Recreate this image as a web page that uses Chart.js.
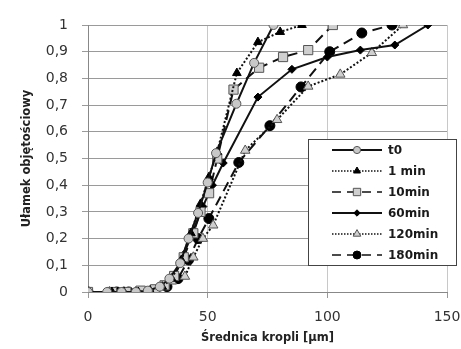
<!DOCTYPE html>
<html>
<head>
<meta charset="utf-8">
<script src="https://cdn.jsdelivr.net/npm/chart.js@4/dist/chart.umd.min.js"></script>
<style>
  html, body { margin: 0; padding: 0; background: #fff; }
  #wrap { width: 461px; height: 349px; position: relative; }
</style>
</head>
<body>
<div id="wrap"><canvas id="chart"></canvas></div>
<script>
// series labels
const seriesNames = ["t0", "1 min", "10min", "60min", "120min", "180min"];

// droplet diameter [um] and volume fraction
const t0X = [0, 8, 14, 20, 25, 30, 34, 38.5, 42, 46, 50, 53.5, 62, 69.4, 77.5];
const t0Y = [0, 0, 0, 0, 0.005, 0.02, 0.05, 0.108, 0.2, 0.296, 0.41, 0.52, 0.705, 0.858, 1];

const min1X = [0, 10, 15, 21, 26, 31, 35, 39, 43, 47, 50.5, 54, 62.2, 71, 80.3, 89.4];
const min1Y = [0, 0, 0, 0, 0.005, 0.02, 0.05, 0.12, 0.22, 0.33, 0.43, 0.525, 0.82, 0.936, 0.974, 1];

const min10X = [0, 10, 16, 22, 28, 32, 36, 40, 44, 47, 50.6, 54, 60.8, 71.5, 81.5, 92, 102.3];
const min10Y = [0, 0, 0, 0.005, 0.01, 0.025, 0.06, 0.13, 0.22, 0.3, 0.37, 0.5, 0.758, 0.84, 0.88, 0.906, 1];

const min60X = [0, 10, 15, 21, 27, 32, 36, 40, 44, 48, 52, 56.5, 71, 85.2, 100, 113.8, 128.2, 142];
const min60Y = [0, 0, 0, 0, 0.005, 0.02, 0.06, 0.14, 0.23, 0.32, 0.4, 0.483, 0.73, 0.834, 0.88, 0.906, 0.925, 1];

const min120X = [0, 9, 15, 20, 26, 31, 35, 40.5, 44, 48, 52.3, 65.7, 79, 92, 105.4, 118.6, 131.6];
const min120Y = [0, 0, 0, 0, 0.005, 0.02, 0.04, 0.058, 0.13, 0.2, 0.25, 0.53, 0.645, 0.77, 0.815, 0.896, 1];

const min180X = [0, 12, 17, 23, 28, 33, 37.6, 42, 46, 50.5, 63, 76, 89, 101, 114.4, 127];
const min180Y = [0, 0, 0, 0, 0.005, 0.02, 0.05, 0.12, 0.2, 0.275, 0.485, 0.623, 0.768, 0.9, 0.97, 1];

const xTicks = [0, 50, 100, 150];
const yTickLabels = ["0", "0,1", "0,2", "0,3", "0,4", "0,5", "0,6", "0,7", "0,8", "0,9", "1"];

function pts(xs, ys) {
    return xs.map((x, i) => ({ x: x, y: ys[i] }));
}

const styles = [
    { dash: [], width: 2, pointStyle: "circle", radius: 4.5, fill: "#c8c8c8", edge: "#555" },
    { dash: [2, 2], width: 2, pointStyle: "triangle", radius: 5, fill: "#000", edge: "#000" },
    { dash: [10, 6], width: 2, pointStyle: "rect", radius: 6.5, fill: "#cfcfcf", edge: "#555" },
    { dash: [], width: 2, pointStyle: "rectRot", radius: 4, fill: "#000", edge: "#000" },
    { dash: [2, 2], width: 2, pointStyle: "triangle", radius: 5.5, fill: "#d0d0d0", edge: "#555" },
    { dash: [10, 6], width: 2, pointStyle: "circle", radius: 5, fill: "#000", edge: "#000" }
];

const seriesData = [
    pts(t0X, t0Y), pts(min1X, min1Y), pts(min10X, min10Y),
    pts(min60X, min60Y), pts(min120X, min120Y), pts(min180X, min180Y)
];

const datasets = seriesNames.map((name, i) => ({
    label: name,
    data: seriesData[i],
    borderColor: "#111",
    borderWidth: styles[i].width,
    borderDash: styles[i].dash,
    pointStyle: styles[i].pointStyle,
    pointRadius: styles[i].radius,
    pointBackgroundColor: styles[i].fill,
    pointBorderColor: styles[i].edge,
    pointBorderWidth: 1,
    fill: false,
    tension: 0
}));

// legend box drawn inside the plot, like the original
const boxLegend = {
    id: "boxLegend",
    afterDraw(chart) {
        const ctx = chart.ctx;
        const bx = 308, by = 139, bw = 148, bh = 126;
        ctx.save();
        ctx.fillStyle = "#fff";
        ctx.fillRect(bx, by, bw, bh);
        ctx.strokeStyle = "#444";
        ctx.lineWidth = 1;
        ctx.strokeRect(bx + 0.5, by + 0.5, bw, bh);
        chart.data.datasets.forEach((ds, i) => {
            const y = by + 11 + i * 21;
            const x1 = bx + 24, x2 = bx + 74;
            ctx.strokeStyle = "#111";
            ctx.lineWidth = ds.borderDash.length ? 1.5 : 2;
            ctx.setLineDash(ds.borderDash.length ? (ds.borderDash[0] < 5 ? [1.5, 1.5] : [9, 6]) : []);
            ctx.beginPath();
            ctx.moveTo(x1, y);
            ctx.lineTo(x2, y);
            ctx.stroke();
            ctx.setLineDash([]);
            ctx.fillStyle = ds.pointBackgroundColor;
            ctx.strokeStyle = ds.pointBorderColor;
            ctx.lineWidth = 1;
            Chart.helpers.drawPoint(ctx, {
                pointStyle: ds.pointStyle,
                radius: ds.pointRadius * 0.8,
                rotation: 0,
                borderWidth: 1
            }, (x1 + x2) / 2, y);
            ctx.fillStyle = "#1a1a1a";
            ctx.font = "bold 12px 'DejaVu Sans'";
            ctx.textBaseline = "middle";
            ctx.textAlign = "left";
            ctx.fillText(ds.label, bx + 80, y + 1);
        });
        ctx.restore();
    }
};

new Chart(document.getElementById("chart"), {
    type: "line",
    data: { datasets: datasets },
    plugins: [boxLegend],
    options: {
        responsive: true,
        maintainAspectRatio: false,
        animation: false,
        layout: { padding: { top: 25, right: 14, left: 0, bottom: 0 } },
        plugins: {
            legend: { display: false },
            tooltip: { enabled: false }
        },
        scales: {
            x: {
                type: "linear",
                min: 0,
                max: 150,
                afterFit: s => { s.height = 57; s.paddingRight = 0; s.paddingLeft = 0; },
                afterBuildTicks: s => { s.ticks = xTicks.map(v => ({ value: v })); },
                ticks: {
                    padding: 11,
                    color: "#333",
                    font: { family: "DejaVu Sans", size: 14 },
                    maxRotation: 0
                },
                grid: { color: "#c8c8c8", tickLength: 6, tickColor: "#999" },
                border: { color: "#888" },
                title: {
                    display: true,
                    text: "Średnica kropli [µm]",
                    color: "#222",
                    font: { family: "DejaVu Sans", size: 11.5, weight: "bold" },
                    padding: { top: 0, bottom: 4 }
                }
            },
            y: {
                min: 0,
                max: 1,
                afterFit: s => { s.width = 88; },
                ticks: {
                    stepSize: 0.1,
                    padding: 14,
                    color: "#333",
                    font: { family: "DejaVu Sans", size: 14 },
                    callback: (v, i) => yTickLabels[i]
                },
                grid: { color: "#9a9a9a", tickLength: 6, tickColor: "#9a9a9a" },
                border: { color: "#888" },
                title: {
                    display: true,
                    text: "Ułamek objętościowy",
                    color: "#222",
                    font: { family: "DejaVu Sans", size: 11.5, weight: "bold" },
                    padding: { top: 20, bottom: 0 }
                }
            }
        }
    }
});
</script>
</body>
</html>
